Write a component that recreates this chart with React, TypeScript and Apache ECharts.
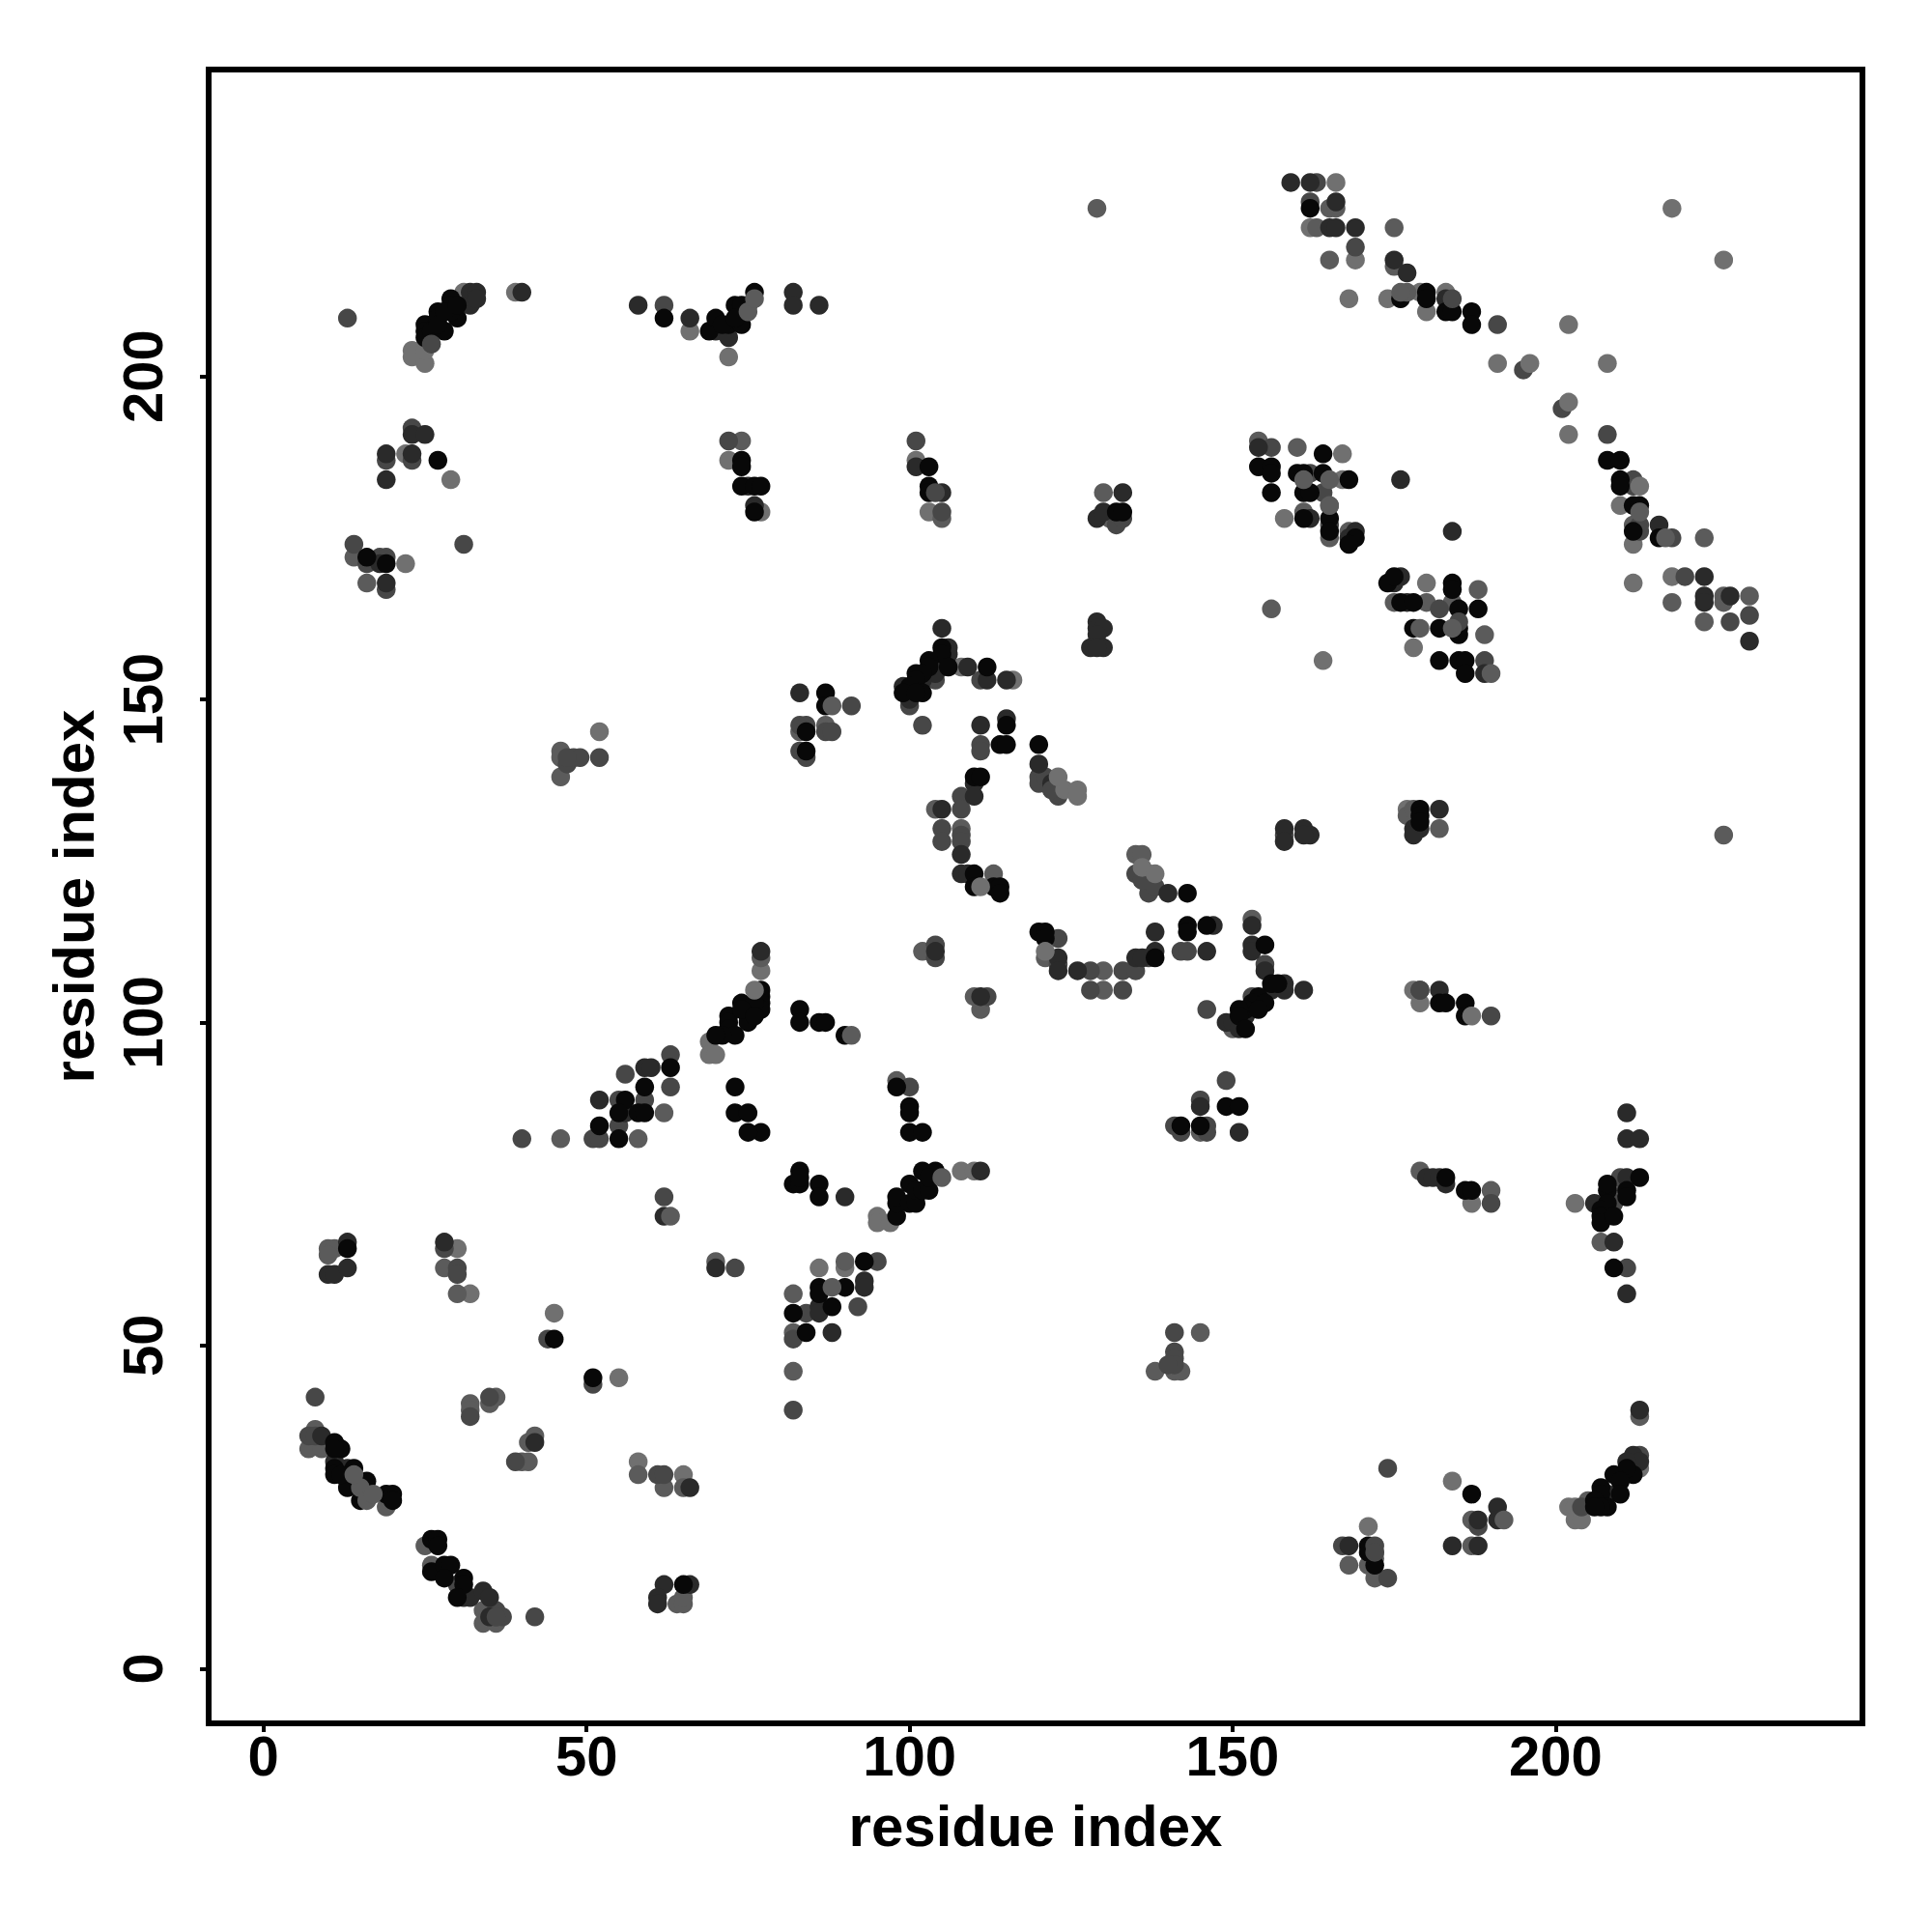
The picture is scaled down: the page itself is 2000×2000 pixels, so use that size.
import React, { useEffect, useRef } from "react";
import * as echarts from "echarts";

type P = [number, number];

const tickValues = [0, 50, 100, 150, 200];
const axisTitle = "residue index";

const blackPoints: P[] = [
[25,208],[25,207],[25,206],[27,210],[27,209],[26,207],[28,207],[27,208],[29,212],[29,211],[30,209],[29,210],[28,210],[30,211],
[62,209],[69,207],[70,209],[72,208],[71,208],[74,208],[73,211],[74,211],[73,209],[76,213],[27,187],[16,172],[19,171],
[74,187],[74,186],[74,183],[76,183],[76,179],[77,183],
[103,186],[103,183],[103,182],[132,179],[133,179],[154,186],[156,186],[156,185],[160,185],[161,185],[156,182],[161,182],[161,178],
[162,226],[180,213],[180,212],[176,212],[183,210],[184,210],[187,210],[187,208],[208,187],[210,187],[210,184],[210,183],
[212,180],[213,180],[212,176],[216,175],[164,188],[164,185],[168,184],[162,182],[165,178],[165,176],[169,175],[168,174],
[174,168],[175,169],[176,165],[178,165],[184,168],[184,167],[185,164],[188,164],[178,161],[182,161],[185,161],[185,160],
[182,156],[185,156],[186,156],[186,154],[179,133],[179,132],[179,131],[182,103],[183,103],[186,103],[186,101],
[183,76],[186,74],[187,74],[208,74],[208,72],[207,71],[207,70],[207,69],[209,70],[209,62],[213,76],[211,74],[211,73],[208,75],
[212,30],[211,31],[209,30],[210,29],[207,28],[207,27],[210,27],[206,26],[208,25],[207,25],[206,25],[187,27],[171,19],[171,18],[172,16],
[87,151],[87,149],[84,145],[84,142],[105,158],[105,157],[106,155],[103,156],[103,155],[101,154],[102,154],[101,153],[102,151],[100,152],[99,151],[101,151],
[112,155],[115,146],[114,143],[115,143],[120,143],[110,138],[111,138],[110,123],[110,121],[113,121],[114,121],[114,120],[143,120],
[77,105],[77,104],[77,103],[77,102],[83,102],[83,100],[86,100],[87,100],[90,98],[120,114],[121,114],[121,113],[138,110],
[143,115],[143,114],[146,115],[155,112],[156,106],[157,106],[154,104],[153,103],[155,103],[152,102],[151,102],[154,102],[151,101],[152,99],
[98,90],[100,87],[100,86],[100,83],[102,83],[149,87],[151,87],[142,84],[145,84],[77,83],[83,77],[102,77],[104,77],
[82,75],[83,75],[83,76],[86,75],[86,73],[98,70],[98,72],[98,73],[100,72],[100,75],[101,72],[101,74],[102,74],[103,74],[103,76],
[93,63],[86,59],[86,58],[90,59],[82,55],[88,56],[84,52],
[74,103],[76,103],[75,101],[75,100],[72,101],[72,100],[72,99],[73,98],[71,98],[70,98],[74,102],[76,101],
[63,93],[59,90],[56,88],[55,86],[58,86],[59,86],[52,84],[55,82],[73,90],[73,86],[75,86],[75,83],
[45,51],[51,45],[65,13],[13,65],[14,31],[11,35],[12,34],[11,34],[11,31],[11,30],[13,28],[16,29],[15,26],[19,27],[20,27],[20,26],[12,30],
[26,20],[27,20],[27,19],[26,15],[28,16],[29,16],[28,14],[31,14],[31,13],[30,11],
];

const darkPoints: P[] = [
[32,213],[33,213],[32,211],[33,212],[40,213],[58,211],[66,209],[70,207],[72,206],[75,211],[82,213],[82,211],[86,211],
[23,191],[25,191],[19,188],[19,184],[23,188],[18,171],[19,168],[75,183],[76,180],
[101,186],[105,182],[129,178],[130,179],[133,182],[154,189],[159,230],[162,230],[162,178],[129,162],
[165,223],[166,223],[169,223],[166,227],[177,216],[175,218],[183,212],[216,177],[223,169],[223,166],[223,165],[227,166],[230,159],
[168,175],[169,176],[176,184],[184,176],[176,169],[175,168],[177,165],[189,154],[178,130],[179,130],[178,129],[182,133],[182,105],[162,129],[161,130],[161,129],
[211,86],[211,82],[213,82],[180,76],[181,76],[182,76],[183,75],[206,72],[209,66],[211,58],[211,76],
[213,40],[212,33],[213,32],[211,32],[208,27],[191,25],[191,23],[188,23],[184,19],[188,19],[168,19],
[105,161],[129,161],[130,161],[129,160],[128,158],[130,158],[129,158],[83,151],[106,158],[106,157],[105,155],[104,155],[104,154],[102,153],[99,152],[100,150],
[109,155],[112,153],[115,153],[111,146],[115,147],[120,140],[122,137],[110,137],[110,135],[105,133],[108,126],[108,123],[109,123],
[140,120],[158,130],[158,128],[77,111],[104,111],[111,104],[123,110],[123,108],[126,108],[135,110],[136,110],[138,111],[138,114],
[146,111],[147,115],[153,115],[153,112],[153,111],[155,108],[158,106],[158,105],[156,105],[152,101],[149,100],[150,100],[151,99],[161,105],
[145,87],[151,83],[111,77],[90,73],[93,60],[93,59],[86,56],[86,55],[88,52],[59,93],[60,93],[52,88],[56,86],[62,70],[70,62],
[13,66],[10,61],[11,61],[13,62],[28,66],[42,35],[66,28],[62,13],[66,13],[61,11],[61,10],
[9,36],[11,32],[13,31],[13,29],[31,11],[32,11],[34,12],[35,11],[35,8],
];

const midPoints: P[] = [
[13,209],[62,211],[23,192],[19,187],[19,167],[23,187],[31,174],[14,174],[16,171],[18,172],[19,172],[72,190],
[101,190],[105,179],[132,177],[133,178],[156,189],[163,230],[162,227],[169,220],[191,208],[195,201],[201,195],[208,191],[212,184],[212,183],
[213,177],[213,176],[220,169],[230,163],[162,185],[164,182],[165,177],[182,164],[189,156],[179,105],[190,101],[190,72],[211,62],[174,31],[167,19],[172,18],[188,22],
[83,146],[84,146],[87,145],[88,145],[83,142],[84,141],[91,149],[104,153],[100,149],[102,146],[111,153],[111,143],[111,142],
[120,138],[120,137],[121,138],[122,136],[123,135],[108,135],[108,133],[105,130],[105,128],[108,129],[108,128],[135,123],[137,123],[137,120],[138,121],
[158,129],[104,112],[104,110],[112,104],[123,113],[123,109],[128,108],[133,108],[135,108],[137,110],[128,105],[133,105],[142,111],[143,111],
[155,109],[153,104],[146,102],[100,90],[149,91],[145,88],[141,84],[142,83],[146,84],[146,83],[95,63],[92,56],[84,55],[82,51],[82,40],
[141,52],[141,49],[141,48],[141,47],[140,47],[174,14],[63,95],[56,92],[55,88],[59,88],[55,84],[40,82],[51,82],[52,82],
[62,73],[73,62],[28,65],[30,62],[30,61],[44,51],[51,44],[8,42],[32,39],[35,42],[39,32],[61,30],[62,30],
[52,141],[47,140],[48,141],[49,141],[47,141],[7,36],[8,36],[36,9],[37,8],[36,8],[42,8],[30,13],
[213,33],[204,25],[209,72],[210,76],
];

const softPoints: P[] = [
[129,226],[74,190],[14,172],[16,168],[105,178],[130,182],[131,178],[154,190],[160,189],[161,179],[163,223],[156,164],
[165,226],[166,226],[165,218],[175,223],[175,217],[212,177],[223,175],[218,165],[226,166],[226,165],[230,166],[223,162],
[165,180],[165,175],[168,176],[188,167],[175,165],[180,165],[184,165],[189,160],[177,132],[178,133],[182,130],[226,129],
[179,77],[190,74],[207,66],[172,17],[171,16],[168,16],[172,14],[187,23],[187,19],
[83,145],[87,146],[104,133],[108,130],[135,126],[136,126],[113,123],[121,110],
[102,111],[111,102],[110,104],[130,108],[130,105],[153,116],[150,99],[98,91],[145,83],[90,63],[82,58],[82,52],[138,46],[141,46],[142,46],[145,52],[82,46],
[46,142],[46,141],[46,138],[62,86],[58,82],[46,82],[70,63],[10,65],[11,65],[10,64],[28,62],[30,58],[32,41],[32,40],[36,42],[35,41],[42,36],[41,35],[40,32],[41,32],
[58,30],[62,28],[65,28],[64,10],[65,10],[65,11],[8,37],[7,34],[9,34],[19,25],[34,9],[34,7],[36,7],[25,19],[26,16],
[77,110],[205,26],[213,39],[209,73],[210,75],
];

const paleUnder: P[] = [
[23,204],[23,203],[25,202],[25,204],[39,213],[31,213],[22,188],[29,184],[22,171],[72,187],[66,207],[72,203],[77,179],[101,187],[103,179],
[218,226],[226,218],[166,230],[168,212],[169,218],[174,212],[179,213],[183,213],[180,210],[202,208],[191,202],[208,202],[202,191],[210,180],[212,174],[212,168],
[218,169],[167,188],[167,184],[158,178],[162,223],[178,158],[180,168],[164,156],[177,133],[178,105],[179,103],[187,72],[203,72],[184,29],[171,22],
[108,155],[116,153],[77,108],[69,97],[69,95],[70,95],[95,70],[95,69],[97,69],[108,77],[110,77],[86,62],[90,62],[52,145],[45,55],[55,45],[58,32],[65,30],[32,58],[30,65],
[202,25],[203,25],[203,23],[204,23],[213,31],
];

const topMid: P[] = [
[26,205],[104,182],[184,212],[218,175],[136,122],[122,136],[172,19],[172,18],[63,90],[179,105],[185,162],[227,162],[36,8],
];

const topSoft: P[] = [
[91,98],[88,149],[179,161],[190,154],[88,59],[75,210],[161,184],[165,184],[165,180],[217,175],[213,179],[177,213],[176,213],[105,76],[15,28],[16,26],[17,27],
[192,23],[63,70],[14,30],[76,212],[184,161],
];

const topPale: P[] = [
[187,101],[213,183],[111,121],[136,124],[138,123],[124,136],[126,136],[123,138],[126,135],[202,196],[196,202],[121,111],[76,105],
];

const layers: { data: P[]; color: string }[] = [
  { data: paleUnder, color: "#707070" },
  { data: softPoints, color: "#5b5b5b" },
  { data: midPoints, color: "#474747" },
  { data: darkPoints, color: "#2a2a2a" },
  { data: blackPoints, color: "#080808" },
  { data: topMid, color: "#474747" },
  { data: topSoft, color: "#5b5b5b" },
  { data: topPale, color: "#707070" },
];

const FONT = '"Liberation Sans", Arial, sans-serif';

export default function App() {
  const ref = useRef<HTMLDivElement>(null);
  useEffect(() => {
    if (!ref.current) return;
    const chart = echarts.init(ref.current, undefined, { renderer: "svg", width: 2000, height: 2000 });
    const commonAxis = {
      type: "value" as const,
      min: -8.48,
      max: 247.48,
      splitLine: { show: false },
      axisLine: { show: false, onZero: false },
      axisTick: { show: true, customValues: tickValues, length: 9, inside: false, lineStyle: { color: "#000", width: 4 } },
      name: axisTitle,
      nameLocation: "middle" as const,
      nameTextStyle: { fontFamily: FONT, fontWeight: "bold" as const, fontSize: 60, color: "#000" },
    };
    chart.setOption({
      animation: false,
      backgroundColor: "#fff",
      grid: { show: true, left: 216, top: 72, width: 1712, height: 1712, borderColor: "#000", borderWidth: 6, backgroundColor: "transparent", containLabel: false },
      xAxis: {
        ...commonAxis,
        position: "bottom",
        nameGap: 76,
        axisLabel: { show: true, customValues: tickValues, margin: 4, fontFamily: FONT, fontWeight: "bold", fontSize: 58, color: "#000", showMinLabel: true, showMaxLabel: true },
      },
      yAxis: {
        ...commonAxis,
        position: "left",
        nameGap: 110,
        axisLabel: { show: true, customValues: tickValues, rotate: 90, margin: 40, fontFamily: FONT, fontWeight: "bold", fontSize: 58, color: "#000", align: "center", verticalAlign: "bottom" },
      },
      series: layers.map((l, i) => ({
        type: "scatter",
        data: l.data,
        symbol: "circle",
        symbolSize: 19.5,
        silent: true,
        z: 2 + i,
        itemStyle: { color: l.color, opacity: 1 },
      })),
    });
    return () => chart.dispose();
  }, []);
  return <div ref={ref} style={{ position: "absolute", left: 0, top: 0, width: 2000, height: 2000 }} />;
}
